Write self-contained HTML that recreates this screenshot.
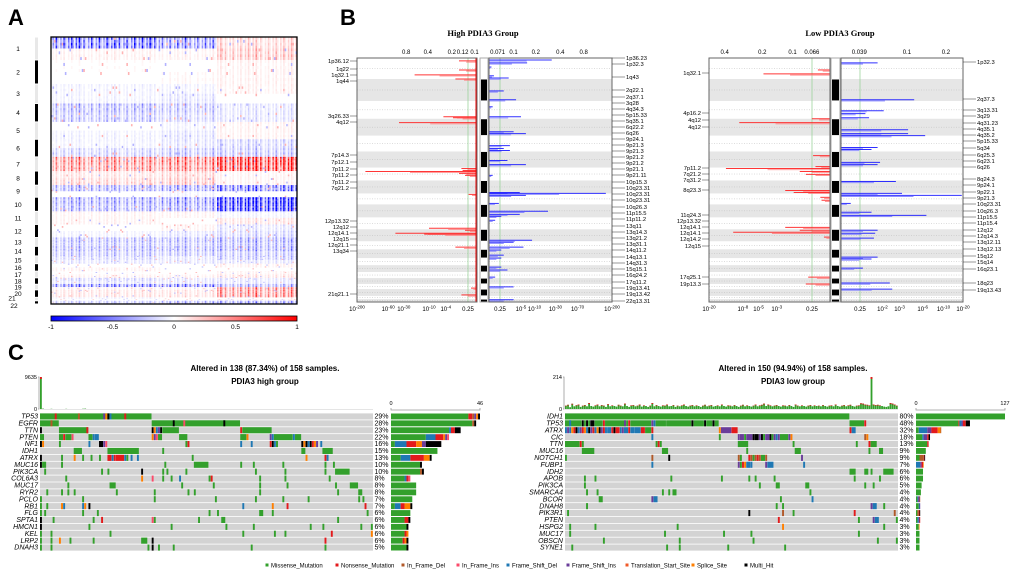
<!DOCTYPE html>
<html><head><meta charset="utf-8"><style>
html,body{margin:0;padding:0;background:#fff}
svg{display:block;font-family:"Liberation Sans",sans-serif}
</style></head><body>
<svg id="fig" width="1020" height="578" viewBox="0 0 1020 578" xmlns="http://www.w3.org/2000/svg">
<defs>
<linearGradient id="cbar" x1="0" x2="1" y1="0" y2="0"><stop offset="0" stop-color="#0000ff"/><stop offset="0.5" stop-color="#ffffff"/><stop offset="1" stop-color="#ff0000"/></linearGradient>
</defs>
<text x="8" y="25" font-size="22" font-weight="bold">A</text>
<text x="340" y="25" font-size="22" font-weight="bold">B</text>
<text x="8" y="360" font-size="22" font-weight="bold">C</text>
<text x="483" y="36" font-size="8.5" font-weight="bold" text-anchor="middle" font-family="Liberation Serif, serif">High PDIA3 Group</text>
<text x="840" y="36" font-size="8.5" font-weight="bold" text-anchor="middle" font-family="Liberation Serif, serif">Low PDIA3 Group</text>
<text x="265" y="371" font-size="8" font-weight="bold" text-anchor="middle">Altered in 138 (87.34%) of 158 samples.</text>
<text x="265" y="384" font-size="8" font-weight="bold" text-anchor="middle">PDIA3 high group</text>
<text x="793" y="371" font-size="8" font-weight="bold" text-anchor="middle">Altered in 150 (94.94%) of 158 samples.</text>
<text x="793" y="384" font-size="8" font-weight="bold" text-anchor="middle">PDIA3 low group</text>
</svg>
<script>
// ---------------- DATA ----------------
const chromNames = ["1","2","3","4","5","6","7","8","9","10","11","12","13","14","15","16","17","18","19","20","21","22"];
const chromBounds = [0,86,176,249,318,383,449,502,555,600,653,702,751,784,820,849,877,902,926,947,975,988,1000];
const hmP = [[-0.55,-0.4,0.15],[0.02,0,0.05],[-0.05,-0.05,0.05],[-0.25,-0.2,-0.1],[0,-0.05,0.05],[-0.05,-0.1,-0.15],[0.4,0.45,0.8],[0.1,0.15,0.05],[-0.3,-0.35,-0.55],[-0.3,-0.35,-0.85],[0.05,0.05,-0.05],[0,0.05,-0.1],[-0.25,-0.25,-0.3],[-0.25,-0.25,-0.3],[-0.15,-0.1,-0.2],[0,0,0.05],[0.02,0,0.05],[-0.15,-0.1,-0.1],[-0.5,-0.5,-0.3],[0.1,0.1,0.4],[-0.05,0,0],[-0.2,-0.3,-0.35]];
const hmQ = [[0.05,0.05,0.2],[0,0.03,0.05],[-0.05,-0.1,0],[-0.2,-0.15,-0.1],[-0.05,-0.1,0.05],[-0.15,-0.2,-0.2],[0.35,0.4,0.75],[0.15,0.2,0.05],[0,-0.05,0],[-0.25,-0.3,-0.8],[0.05,0,0.1],[-0.05,-0.1,-0.15],[-0.2,-0.2,-0.25],[-0.2,-0.2,-0.2],[-0.1,-0.1,-0.1],[0.05,0,0],[0.05,0.05,0.1],[-0.1,-0.1,-0.1],[0.05,0.05,0.4],[0.1,0.1,0.4],[0,0,0.05],[-0.2,-0.3,-0.4]];
const cbTicks = ["-1","-0.5","0","0.5","1"];

const hiAmpLoc = [12,49,69,86,241,245,265,453,461,465,473,481,559,698,706,718,722,775,943,971];
const hiAmpScore = [.15,.15,.52,.18,.28,.2,.65,.13,.12,.93,.15,.1,.07,.4,.1,.68,.44,.18,.05,.13];
const hiDelLoc = [8,20,37,73,82,135,171,200,241,302,310,359,371,379,420,437,481,551,555,563,596,628,641,649,665,747,755,775,787,808,820,857,869,898,938,991];
const hiDelScore = [.51,.31,.02,.04,.16,.12,.22,.03,.26,.2,.3,.17,.12,.17,.15,.3,.03,.25,.95,.3,.08,.48,.25,.1,.05,.35,.2,.28,.1,.12,.1,.1,.15,.05,.2,.2];
const loAmpLoc = [49,65,249,265,400,445,453,465,477,543,551,571,583,694,706,714,734,898,926];
const loAmpScore = [.1,.55,.15,.75,.14,.12,.86,.25,.2,.37,.3,.08,.07,.37,.25,.8,.05,.18,.2];
const loDelLoc = [20,171,216,228,245,294,310,318,367,375,428,437,506,555,563,596,632,645,706,718,738,816,824,861,922,947];
const loDelScore = [.3,.6,.35,.2,.23,.55,.55,.69,.3,.25,.32,.3,.45,.5,.99,.08,.25,.7,.3,.28,.27,.3,.25,.18,.4,.42];

const hiAmpLabels = ["1p36.12","1q22","1q32.1","1q44","3q26.33","4q12","7p14.3","7p12.1","7p11.2","7p11.2","7p11.2","7q21.2","12p13.32","12q12","12q14.1","12q15","12q21.1","13q34","21q21.1"];
const hiAmpLabelY = [61,69,75,81,116,122,155,162,169,175,182,188,221,227,233,239,245,251,294];
const hiDelLabels = ["1p36.23","1p32.3","1q43","2q22.1","2q37.1","3q28","4q34.3","5p15.33","5q35.1","6q22.2","6q26","9p24.1","9p21.3","9p21.3","9p21.2","9p21.2","9p21.1","9p21.11","10p15.3","10q23.31","10q23.31","10q23.31","10q26.3","11p15.5","11p11.2","13q11","13q14.3","13q21.2","13q31.1","14q11.2","14q13.1","14q31.3","15q15.1","16q24.2","17q11.2","19q13.41","19q13.42","22q13.31"];
const hiDelLabelY = [58,64,77,90,97,103,109,115,121,127,133,139,145,151,157,163,169,175,182,188,194,200,207,213,219,226,232,238,244,250,257,263,269,275,282,288,294,301];
const loAmpLabels = ["1q32.1","4p16.2","4q12","4q12","7p11.2","7q21.2","7q31.2","8q23.3","11q24.3","12p13.32","12q14.1","12q14.1","12q14.2","12q15","17q25.1","19p13.3"];
const loAmpLabelY = [73,113,120,127,168,174,180,190,215,221,227,233,239,246,277,284];
const loDelLabels = ["1p32.3","2q37.3","3q13.31","3q29","4q31.23","4q35.1","4q35.2","5p15.33","5q34","6q25.3","6q23.1","6q26","8q24.3","9p24.1","9p22.1","9p21.3","10q23.31","10q26.3","11p15.5","11p15.4","12q12","12q14.3","13q12.11","13q12.13","15q12","15q14","16q23.1","18q23","19q13.43"];
const loDelLabelY = [62,99,110,116,123,129,135,141,148,155,161,167,179,185,192,198,204,211,217,223,230,236,242,249,256,262,269,283,290];

const hiTopLeftLabels = ["0.8","0.4","0.2","0.12","0.1"], hiTopLeftVals = [.59,.41,.21,.12,.02];
const hiTopRightLabels = ["0.071","0.1","0.2","0.4","0.8"], hiTopRightVals = [.07,.2,.38,.58,.77];
const hiBotLeftLabels = ["-200","-60","-30","-10","-4"], hiBotLeftVals = [1,.74,.61,.4,.26];
const hiBotRightLabels = ["-5","-10","-30","-70","-200"], hiBotRightVals = [.26,.37,.54,.72,1];
const loTopLeftLabels = ["0.4","0.2","0.1","0.066"], loTopLeftVals = [.87,.56,.31,.15];
const loTopRightLabels = ["0.039","0.1","0.2"], loTopRightVals = [.15,.54,.86];
const loBotLeftLabels = ["-20","-8","-5","-3"], loBotLeftVals = [1,.72,.59,.44];
const loBotRightLabels = ["-2","-3","-6","-10","-20"], loBotRightVals = [.34,.48,.67,.84,1];

const mutTypes = ["Missense_Mutation","Nonsense_Mutation","In_Frame_Del","In_Frame_Ins","Frame_Shift_Del","Frame_Shift_Ins","Translation_Start_Site","Splice_Site","Multi_Hit"];
const mutColors = {M:"#33a02c",N:"#e31a1c",D:"#b15928",I:"#fb4a6a",F:"#1f78b4",S:"#6a3d9a",T:"#f05a28",P:"#ff7f00",X:"#000000"};
const mutKeys = ["M","N","D","I","F","S","T","P","X"];

const hiGenes = ["TP53","EGFR","TTN","PTEN","NF1","IDH1","ATRX","MUC16","PIK3CA","COL6A3","MUC17","RYR2","PCLO","RB1","FLG","SPTA1","HMCN1","KEL","LRP2","DNAH3"];
const hiPct = ["29%","28%","23%","22%","16%","15%","13%","10%","10%","8%","8%","8%","7%","7%","6%","6%","6%","6%","6%","5%"];
const hiMuts = [
 "0-52M 7N 18D 30S 31P 32X 33F 40N",
 "0-8M 5D 53-94M 63X 68I 87X",
 "0X 9-22M 22N 53X 54P 55F 56S 57X 58-65M 95N 96-109M",
 "0-1M 9-10M 11N 12-14M 15I 23-24M 25F 26-27F 53P 54S 55I 56-57M 66-69M 95-97M 98P 109S 110F 111-119M 120F 121-123M",
 "0X 1P 9M 23F 28-29X 30S 31I 69M 70N 95F 100F 109N 110X 111F 112M 124X 125P 126X 127F 128X 129N 130P 131S 133F",
 "16-19M 32-46M 58M 124-125M 134-138M",
 "0X 10M 16P 20M 24M 28M 32-33N 34F 35N 36-39N 40F 41M 43F 46F 72M 126P 135N 136F",
 "0X 1-2M 10M 59M 73-79M 95M 101M 115M 135M 139M",
 "2M 29M 32M 48X 58M 60M 69M 102M 116M 135M 140-146M",
 "12M 48P 53I 58M 62M 66F 80M 81N 104M 116M 137M",
 "13M 33-35M 67M 82M 104M 117M 140M 147-150M",
 "3M 10M 13M 16M 36M 54M 70M 73M 104M 141M 151-152M",
 "0M 20M 54M 83M 102M 115M 127M 151M 153M",
 "0M 3M 10P 11F 20F 21P 23X 96F 110P 117N 154N",
 "0M 2M 20M 27M 80M 84M 104-105M 110M 155M",
 "0X 6M 25M 29N 53I 54M 75M 86-87M 141M",
 "0X 23M 62M 88M 101M 128M 134M 152M 157M",
 "0M 5M 33M 96M 111M 116M 138N 157P",
 "0M 5M 9P 14M 25M 48-50M 53X 135N",
 "0M 5M 51M 53X 56M 63M 100M 135M"];
const hiBarComp = [[["M",40],["N",2],["D",1],["S",1],["P",1],["X",1]],[["M",42],["D",1],["X",1]],[["M",30],["F",1],["N",2],["X",3]],[["M",18],["F",5],["N",4],["P",1],["S",1],["I",1]],[["M",2],["F",6],["N",5],["P",3],["S",2],["X",8]],[["M",24]],[["M",5],["F",5],["N",7],["P",3],["X",1]],[["M",15],["X",1]],[["M",15],["D",1],["X",1]],[["M",7],["F",1],["N",1],["I",1]],[["M",13]],[["M",13]],[["M",11]],[["M",2],["F",3],["N",2],["P",3],["X",1]],[["M",10]],[["M",7],["N",2],["X",1]],[["M",8],["X",1]],[["M",7],["N",1],["P",1]],[["M",6],["N",1],["P",1],["X",1]],[["M",8],["X",1]]];
const loGenes = ["IDH1","TP53","ATRX","CIC","TTN","MUC16","NOTCH1","FUBP1","IDH2","APOB","PIK3CA","SMARCA4","BCOR","DNAH8","PIK3R1","PTEN","HSPG2","MUC17","OBSCN","SYNE1"];
const loPct = ["80%","48%","32%","18%","13%","9%","9%","7%","6%","6%","5%","4%","4%","4%","4%","4%","3%","3%","3%","3%"];
const loMuts = [
 "0-134M",
 "0-7M 2F 8X 9M 10X 11M 12-13X 14-17M 18N 19-28M 28S 29M 30N 31-40M 41S 42F 43-47M 48-59M 60X 61-65M 66X 67-69M 70X 71-72M 135-141M 142N",
 "0F 1S 2F 3P 4N 5X 6F 7S 8N 9P 10F 11X 12S 13N 14F 15P 16X 17S 18N 19F 20-21F 22N 23X 24-25N 26F 27S 28-29F 30N 31-32F 33-35F 36-37N 38-40M 41N 73P 74-78S 79-81N 135N 136-137F",
 "41F 73M 82S 83-84S 85M 86-88S 89X 90-91X 92S 93X 94M 95-96S 97X 98M 99S 100F 101S 102-105M 106S 107P 142D 143P",
 "0-6M 7N 8M 43M 44N 45M 82-86M 108M 138M 144N 145-147M",
 "8-13M 46-48M 86M 109-111M 144M 149-150M",
 "0M 41D 49X 82D 83M 87N 88D 89M 90D 91N 92D 93-94M 95D 112S",
 "41F 82S 83M 84N 85P 86-87F 88F 95S 96-98F 113F",
 "135-137M 142-143M 145M 151-155M",
 "9M 14M 50M 74M 87M 90M 99M 137M 149M",
 "9M 92M 100-101M 114-115M 142M 146M",
 "10M 15M 46M 49M 51-52M 116M",
 "16-17M 41S 42-43F 102M 117F",
 "10M 100M 103M 145S 146-147F 151M",
 "1M 87X 103D 108M 137N 156D",
 "101N 139M 146S 147-148F 157M",
 "2M 14M 53M 103P 151M",
 "2M 47M 75M 88M 139M",
 "18M 54M 89M 148M 157M",
 "3M 48M 54M 77M 104M"];
const loBarComp = [[["M",127]],[["M",60],["D",2],["F",3],["S",2],["N",4],["X",6]],[["M",4],["F",12],["S",6],["N",9],["P",4],["D",1]],[["M",9],["F",2],["S",5],["N",2],["X",2]],[["M",16],["N",2]],[["M",14]],[["M",5],["D",6],["N",1],["X",1]],[["F",6],["S",2],["N",2],["P",1]],[["M",10]],[["M",10]],[["M",8]],[["M",7]],[["M",2],["F",1],["S",2],["D",1]],[["M",4],["F",1],["S",1]],[["M",2],["D",2],["N",1],["X",1]],[["M",2],["F",2],["S",1],["N",1]],[["M",4],["P",1]],[["M",5]],[["M",5]],[["M",5]]];

const tmbHigh = [9635,120,40,30,25,60,20,35,40,15,30,20,55,25,30,45,20,25,35,20,80,120,30,25,20,40,35,30,20,25,45,30,20,25,30,35,40,20,25,30,25,20,15,30,25,20,35,30,40,45,25,30,20,25,30,35,20,25,30,20,25,30,35,40,20,25,30,20,25,35,30,25,20,25,30,35,40,30,25,20,30,25,20,25,30,35,25,20,30,25,20,25,30,20,25,30,35,20,25,30,20,25,30,25,20,25,30,35,20,25,30,20,25,30,35,25,20,25,30,20,25,30,25,20,25,30,35,20,25,30,20,25,30,35,25,20,25,30,20,25,30,25,20,25,30,35,20,25,30,20,25,30,25,20,25,30,35,20];
const tmbLow = [22,28,12,35,18,25,30,14,22,26,18,40,20,16,24,30,18,26,22,14,32,18,24,20,16,28,22,18,36,20,14,24,26,18,22,30,16,24,20,14,22,40,18,26,20,16,24,22,30,18,20,26,14,22,18,24,30,20,16,22,26,18,24,20,14,22,28,18,22,26,16,20,24,18,30,20,16,24,22,18,26,20,14,22,28,18,24,20,16,22,30,18,24,28,36,20,30,24,18,22,26,20,16,24,22,18,26,20,14,30,22,18,24,20,16,22,26,18,24,20,22,18,26,20,16,22,24,18,30,20,16,22,26,18,24,28,20,16,22,24,38,36,30,28,24,214,30,26,28,24,20,16,14,18,40,36,30,22];

// ---------------- DRAWING ----------------
const svg = document.getElementById('fig');
const NS = "http://www.w3.org/2000/svg";
function mk(tag, attrs, parent){ const e=document.createElementNS(NS,tag); for(const k in attrs) e.setAttribute(k,attrs[k]); (parent||svg).appendChild(e); return e; }
function txt(x,y,s,size,anchor,extra){ const t=mk('text',Object.assign({x:x,y:y,'font-size':size,'text-anchor':anchor||'start'},extra||{})); t.textContent=s; return t; }
function col(v){ v=Math.max(-1,Math.min(1,v)); if(v>=0){const c=Math.round(255*(1-v)); return `rgb(255,${c},${c})`;} const c=Math.round(255*(1+v)); return `rgb(${c},${c},255)`; }

// ----- Panel A heatmap -----
const A = {x:51,y:37,w:246,h:267,ncol:160};
const aY = g => A.y + g/1000*A.h;
const gA = mk('g',{});


const cw = A.w/A.ncol;
for(let c=0;c<22;c++){
  const g0=chromBounds[c], g1=chromBounds[c+1], gm=(g0+g1)/2;
  const arms=[[g0,gm,hmP[c]],[gm,g1,hmQ[c]]];
  arms.forEach((arm,ai)=>{
    const nsub=4;
    for(let s=0;s<nsub;s++){
      const y0=aY(arm[0]+(arm[1]-arm[0])*s/nsub), y1=aY(arm[0]+(arm[1]-arm[0])*(s+1)/nsub);
      for(let k=0;k<A.ncol;k++){
        const f=k/A.ncol; const grp = f<0.45?0:(f<0.67?1:2);
        const sk=((k*37)%23)/22;
        const rv=0.7+0.6*(((k*k*3+s*11+c*7+ai*5)%7)/6);
        let v=arm[2][grp]*(0.1+1.7*sk*sk)*rv;
        if(((k*k*7+c*31+s*13+ai*17)%41)===0) v = 0.3*(((k+c+s)%2)?1:-1);
        if(Math.abs(v)<0.03) continue;
        const r=mk('rect',{x:(A.x+k*cw).toFixed(2),y:y0.toFixed(2),width:(cw+0.05).toFixed(2),height:(y1-y0+0.05).toFixed(2),fill:col(v)},gA);
        
        
      }
    }
  });
  const lab=txt(c<20?18:(c===20?12:14), aY(gm)+2.5+(c===21?3:0)+(c===20?-1:0), chromNames[c], 6.5, 'middle');
  
  
  const ib=mk('rect',{x:35,y:aY(g0)+0.5,width:3,height:Math.max(1,aY(g1)-aY(g0)-1),fill:(c%2)?'#000':'#e8e8e8'});
  
  
}
const hmBorder=mk('rect',{x:A.x,y:A.y,width:A.w,height:A.h,fill:'none',stroke:'#000','stroke-width':1.3});


const cb=mk('rect',{x:51,y:316,width:246,height:5,fill:'url(#cbar)',stroke:'#000','stroke-width':0.8});


cbTicks.forEach((s,i)=>{ const t=txt(51+i*246/4,329,s,6.5,'middle');
 
  });

// ----- Panel B GISTIC -----
function gistic(cfg){
  const yS = g => cfg.y0 + g/1000*(cfg.y1-cfg.y0);
  const L=cfg.left, R=cfg.right;
  for(let c=0;c<22;c++){
    const y0=yS(chromBounds[c]), y1=yS(chromBounds[c+1]);
    if(c%2){
      [L,R].forEach(b=>{ const r=mk('rect',{x:b[0],y:y0,width:b[1]-b[0],height:y1-y0,fill:'#e6e6e6'});
        
         });
    }
    const ym=(y0+y1)/2;
    [L,R].forEach(b=>{ const l=mk('line',{x1:b[0],x2:b[1],y1:ym,y2:ym,stroke:'#bbb','stroke-width':0.5,'stroke-dasharray':'1,1.5'});
      
       });
    const ib=mk('rect',{x:cfg.ideo[0],y:y0+0.5,width:cfg.ideo[1]-cfg.ideo[0],height:y1-y0-1,fill:(c%2)?'#000':'#fff'});
    
    
  }
  const ideoBorder=mk('rect',{x:cfg.ideo[0]-1,y:cfg.y0,width:cfg.ideo[1]-cfg.ideo[0]+2,height:cfg.y1-cfg.y0,fill:'none',stroke:'#aaa','stroke-width':1});
  
  
  const gl1=mk('line',{x1:cfg.thrL,x2:cfg.thrL,y1:cfg.y0,y2:cfg.y1,stroke:'#9cd39c','stroke-width':0.8});
  
  
  const gl2=mk('line',{x1:cfg.thrR,x2:cfg.thrR,y1:cfg.y0,y2:cfg.y1,stroke:'#9cd39c','stroke-width':0.8});
  
  
  const wL=L[1]-L[0], wR=R[1]-R[0];
  cfg.ampLoc.forEach((g,i)=>{
    const y=yS(g), len=cfg.ampScore[i]*wL;
    const a=mk('line',{x1:L[1],x2:L[1]-len,y1:y,y2:y,stroke:'#ff2020','stroke-width':1,'stroke-opacity':0.9});
    
    
    const b=mk('line',{x1:L[1],x2:L[1]-len*0.6,y1:y+1.2,y2:y+1.2,stroke:'#ff8080','stroke-width':0.8});
    
    
  });
  cfg.delLoc.forEach((g,i)=>{
    const y=yS(g), len=cfg.delScore[i]*wR;
    const a=mk('line',{x1:R[0],x2:R[0]+len,y1:y,y2:y,stroke:'#1a1aff','stroke-width':1,'stroke-opacity':0.9});
    
    
    const b=mk('line',{x1:R[0],x2:R[0]+len*0.6,y1:y+1.2,y2:y+1.2,stroke:'#8080ff','stroke-width':0.8});
    
    
  });
  if(cfg.edge){ const e=mk('line',{x1:L[1]-1,x2:L[1]-1,y1:cfg.y0,y2:cfg.y1,stroke:'#e00','stroke-width':1});
    
     }
  [L,R].forEach((b,i)=>{ const r=mk('rect',{x:b[0],y:cfg.y0,width:b[1]-b[0],height:cfg.y1-cfg.y0,fill:'none',stroke:'#666','stroke-width':1});
    
     });
  cfg.tlLab.forEach((s,i)=>{ const x=L[1]-cfg.tlVal[i]*wL; const t=txt(x,cfg.y0-4,s,6,'middle');
    
     });
  cfg.trLab.forEach((s,i)=>{ const x=R[0]+cfg.trVal[i]*wR; const t=txt(x,cfg.y0-4,s,6,'middle');
    
     });
  const exp = (x,y,e)=>{ const t=mk('text',{x:x,y:y,'font-size':6,'text-anchor':'middle'}); t.textContent='10';
    const ts=mk('tspan',{dy:-2.5,'font-size':4.5},t); ts.textContent=e;
    
     };
  cfg.blLab.forEach((s,i)=>exp(L[1]-cfg.blVal[i]*wL, cfg.y1+9, s));
  cfg.brLab.forEach((s,i)=>exp(R[0]+cfg.brVal[i]*wR, cfg.y1+9, s));
  const q1=txt(cfg.thrL,cfg.y1+9,'0.25',6,'middle');
  
  
  const q2=txt(cfg.thrR,cfg.y1+9,'0.25',6,'middle');
  
  
  cfg.alab.forEach((s,i)=>{ const y=cfg.alabY[i]; const t=txt(L[0]-8,y+2,s,5.8,'end');
    
    
    const l=mk('line',{x1:L[0]-7,x2:L[0],y1:y,y2:y,stroke:'#333','stroke-width':0.5});
    
     });
  cfg.dlab.forEach((s,i)=>{ const y=cfg.dlabY[i]; const t=txt(R[1]+14,y+2,s,5.8,'start');
    
    
    const l=mk('line',{x1:R[1],x2:R[1]+13,y1:y,y2:y,stroke:'#333','stroke-width':0.5});
    
     });
}
gistic({y0:58,y1:302,left:[357,477],right:[489,612],ideo:[481,487],thrL:468,thrR:500,edge:true,
  ampLoc:hiAmpLoc,ampScore:hiAmpScore,delLoc:hiDelLoc,delScore:hiDelScore,
  tlLab:hiTopLeftLabels,tlVal:hiTopLeftVals,trLab:hiTopRightLabels,trVal:hiTopRightVals,
  blLab:hiBotLeftLabels,blVal:hiBotLeftVals,brLab:hiBotRightLabels,brVal:hiBotRightVals,
  alab:hiAmpLabels,alabY:hiAmpLabelY,dlab:hiDelLabels,dlabY:hiDelLabelY});
gistic({y0:58,y1:302,left:[709,830],right:[841,963],ideo:[832,839],thrL:812,thrR:860,edge:false,
  ampLoc:loAmpLoc,ampScore:loAmpScore,delLoc:loDelLoc,delScore:loDelScore,
  tlLab:loTopLeftLabels,tlVal:loTopLeftVals,trLab:loTopRightLabels,trVal:loTopRightVals,
  blLab:loBotLeftLabels,blVal:loBotLeftVals,brLab:loBotRightLabels,brVal:loBotRightVals,
  alab:loAmpLabels,alabY:loAmpLabelY,dlab:loDelLabels,dlabY:loDelLabelY});

// ----- Panel C oncoplots -----
function oncoplot(cfg){
  const n=158, cwid=(cfg.x1-cfg.x0)/n, rh=(551-413)/20;
  const gy=v=>413+v*rh;
  cfg.genes.forEach((g,r)=>{
    const bg=mk('rect',{x:cfg.x0,y:gy(r)+0.4,width:cfg.x1-cfg.x0,height:rh-0.8,fill:'#d3d3d3'});
    
    
    cfg.muts[r].split(' ').forEach(tok=>{
      const m=tok.match(/^(\d+)(?:-(\d+))?([A-Z])$/); if(!m) return;
      const a=+m[1], b=m[2]?+m[2]:a, k=m[3];
      const rc=mk('rect',{x:cfg.x0+a*cwid,y:gy(r)+0.4,width:(b-a+1)*cwid-0.2,height:rh-0.8,fill:mutColors[k]});
      
      
    });
    const gt=txt(cfg.x0-2,gy(r)+rh-1.3,g,7,'end',{'font-style':'italic'});
    
    
    const pt=txt(cfg.x1+1.5,gy(r)+rh-1.3,cfg.pct[r],7,'start');
    
    
    let xx=cfg.bx0;
    cfg.comp[r].forEach(([k,v])=>{
      const w=v/cfg.bmax*(cfg.bx1-cfg.bx0);
      const br=mk('rect',{x:xx,y:gy(r)+0.5,width:w,height:rh-1,fill:mutColors[k]});
      
      
      xx+=w;
    });
  });
  const ax=mk('path',{d:`M${cfg.bx0},408 V410 H${cfg.bx1} V408`,fill:'none',stroke:'#999','stroke-width':0.8});
  
  
  const t0=txt(cfg.bx0,405,'0',5.5,'middle');  
  const t1=txt(cfg.bx1,405,String(cfg.bmax),5.5,'middle');  
  const tmax=Math.max(...cfg.tmb);
  cfg.tmb.forEach((v,i)=>{
    const h=v/tmax*32;
    if(h<0.15) return;
    const b=mk('rect',{x:cfg.x0+i*cwid,y:409-h,width:cwid-0.3,height:h,fill:'#33a02c'});
    
    
    if(h>3){ const c=mk('rect',{x:cfg.x0+i*cwid,y:409-h,width:cwid-0.3,height:Math.min(2,h*0.15),fill:'#e31a1c'});
      
       }
  });
  const yax=mk('path',{d:`M${cfg.x0-2},377 H${cfg.x0-1} V409 H${cfg.x0-2}`,fill:'none',stroke:'#999','stroke-width':0.8});
  
  
  const bl=mk('line',{x1:cfg.x0,x2:cfg.x1,y1:409.5,y2:409.5,stroke:'#ccc','stroke-width':0.6});
  
  
  const ytop=txt(cfg.x0-3,379,String(tmax),5.5,'end');  
  const ybot=txt(cfg.x0-3,411,'0',5.5,'end');  
}
oncoplot({x0:40,x1:373,genes:hiGenes,pct:hiPct,muts:hiMuts,comp:hiBarComp,bx0:391,bx1:480,bmax:46,tmb:tmbHigh});
oncoplot({x0:565,x1:898,genes:loGenes,pct:loPct,muts:loMuts,comp:loBarComp,bx0:916,bx1:1005,bmax:127,tmb:tmbLow});

// legend
const legStart=[267,337,403,458,508,568,627,693,746];
mutTypes.forEach((s,i)=>{
  const x=legStart[i];
  const d=mk('rect',{x:x-1.5,y:563.5,width:3,height:3,fill:mutColors[mutKeys[i]]});
  
  
  const t=txt(x+4,567.5,s,6,'start');
  
  
});
</script>
</body></html>
